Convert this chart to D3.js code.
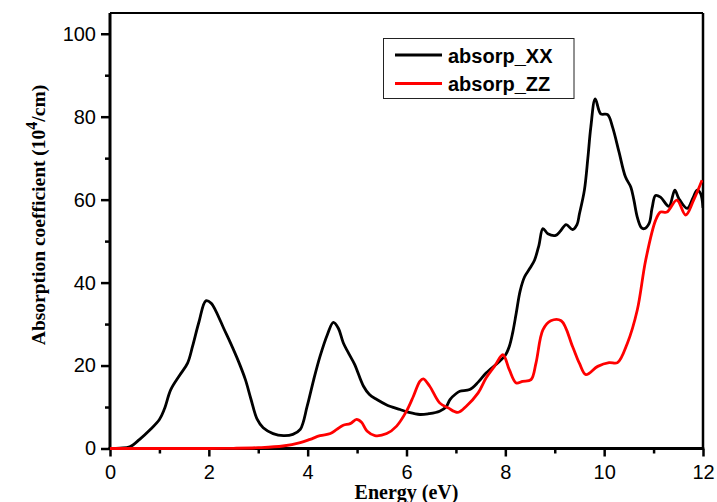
<!DOCTYPE html>
<html>
<head>
<meta charset="utf-8">
<script src="https://cdn.jsdelivr.net/npm/d3@7"></script>
<style>
  html, body { margin: 0; padding: 0; background: #fff; }
  svg { display: block; }
</style>
</head>
<body>
<svg id="chart" width="717" height="502"></svg>
<script>
// ---- data ----
const seriesNames = ["absorp_XX", "absorp_ZZ"];
const seriesColors = ["#000000", "#ff0000"];
const xMajorTicks = [0, 2, 4, 6, 8, 10, 12];
const xMinorTicks = [1, 3, 5, 7, 9, 11];
const yMajorTicks = [0, 20, 40, 60, 80, 100];
const yMinorTicks = [10, 30, 50, 70, 90];

const xxData = [[0,0],[0.2,0.1],[0.4,0.4],[0.6,2.2],[0.8,4.4],[1.0,7.0],[1.1,9.5],[1.23,14.2],[1.4,17.5],[1.57,20.6],[1.67,24.6],[1.8,30.5],[1.94,35.6],[2.05,35],[2.14,33.2],[2.3,29],[2.44,25.4],[2.6,21],[2.74,16.6],[2.85,12],[2.98,7],[3.1,5],[3.3,3.6],[3.51,3.1],[3.7,3.4],[3.85,4.6],[3.99,10.2],[4.12,16.5],[4.25,22.2],[4.4,27.5],[4.52,30.4],[4.62,29],[4.72,25.5],[4.85,22.5],[4.95,20.3],[5.13,15],[5.25,13],[5.4,11.8],[5.6,10.5],[5.87,9.4],[6.05,8.7],[6.27,8.2],[6.45,8.4],[6.67,9],[6.8,10],[6.88,11.8],[7.0,13.2],[7.08,13.8],[7.28,14.2],[7.45,16],[7.61,18.2],[7.88,21],[8.0,22.5],[8.08,24.6],[8.15,28],[8.22,32.6],[8.3,38],[8.39,41.4],[8.5,43.5],[8.59,45.4],[8.68,49],[8.76,53],[8.86,51.8],[9.02,51.4],[9.12,52.5],[9.23,54],[9.36,52.8],[9.45,54],[9.5,56.6],[9.6,62.3],[9.67,70],[9.73,77.5],[9.82,84.3],[9.93,80.7],[10.07,80.5],[10.17,77.5],[10.3,71.5],[10.43,65.5],[10.54,63],[10.6,60],[10.67,55.8],[10.75,53.3],[10.81,53],[10.91,54.3],[10.97,58],[11.04,61],[11.14,60.6],[11.31,58.4],[11.43,62.3],[11.51,60.3],[11.68,57.9],[11.8,60.5],[11.88,62.3],[11.95,61.5],[12,58]];

const zzData = [[0,0],[1,0],[2,0],[2.5,0.05],[3,0.2],[3.5,0.6],[3.85,1.4],[4.05,2.2],[4.25,3.1],[4.46,3.6],[4.59,4.6],[4.72,5.6],[4.86,6],[4.99,7],[5.09,6.3],[5.2,4.2],[5.36,3.1],[5.6,3.6],[5.8,5.4],[6.0,9],[6.14,12.6],[6.27,16.2],[6.34,16.8],[6.47,15],[6.67,11],[6.84,9.8],[7.04,8.7],[7.21,10.2],[7.45,13.4],[7.61,17],[7.78,19.8],[7.95,22.6],[8.08,19],[8.22,15.8],[8.35,16.2],[8.52,16.6],[8.62,20.6],[8.76,28.6],[8.92,30.8],[9.13,30.8],[9.36,24.6],[9.5,20.5],[9.63,17.8],[9.87,19.8],[10.1,20.7],[10.27,20.7],[10.47,25.4],[10.67,33.4],[10.84,45.4],[11.04,55],[11.14,57],[11.27,57],[11.47,59.9],[11.65,56.3],[11.81,59.9],[11.98,64.7]];

// ---- layout ----
const margin = {left: 110, right: 14, top: 13, bottom: 53.5};
const W = 717, H = 502;
const svg = d3.select("#chart");
const x = d3.scaleLinear().domain([0, 12]).range([margin.left, W - margin.right]);
const y = d3.scaleLinear().domain([0, 105]).range([H - margin.bottom, margin.top]);

const sansFont = "'Liberation Sans', Arial, sans-serif";
const serifFont = "'Liberation Serif', 'Times New Roman', serif";

// clip (slightly larger than plot so lines on the axis stay visible)
svg.append("clipPath").attr("id", "clip").append("rect")
  .attr("x", x(0)).attr("y", y(105)).attr("width", x(12) - x(0)).attr("height", y(0) - y(105) + 3);

// frame (top & right)
svg.append("line").attr("x1", x(0)).attr("x2", x(12)).attr("y1", y(105)).attr("y2", y(105))
  .attr("stroke", "#000").attr("stroke-width", 2.2);
svg.append("line").attr("x1", x(12)).attr("x2", x(12)).attr("y1", y(105)).attr("y2", y(0))
  .attr("stroke", "#000").attr("stroke-width", 2.5);

// axes
const xAxis = svg.append("g").attr("transform", `translate(0,${y(0)})`)
  .call(d3.axisBottom(x).tickValues(xMajorTicks).tickSize(8).tickPadding(8).tickFormat(d3.format("d")));
const xMinor = svg.append("g").attr("transform", `translate(0,${y(0)})`)
  .call(d3.axisBottom(x).tickValues(xMinorTicks).tickSize(5).tickFormat(""));
const yAxis = svg.append("g").attr("transform", `translate(${x(0)},0)`)
  .call(d3.axisLeft(y).tickValues(yMajorTicks).tickSize(9).tickPadding(5).tickFormat(d3.format("d")));
const yMinor = svg.append("g").attr("transform", `translate(${x(0)},0)`)
  .call(d3.axisLeft(y).tickValues(yMinorTicks).tickSize(5).tickFormat(""));

[xAxis, xMinor, yAxis, yMinor].forEach(g => {
  g.select(".domain").remove();
  g.selectAll(".tick line").attr("stroke", "#000").attr("stroke-width", 2.5);
  g.selectAll(".tick text").attr("fill", "#000").style("font-family", sansFont).style("font-size", "20px");
});
// axis lines
svg.append("line").attr("x1", x(0)).attr("x2", x(0)).attr("y1", y(105)).attr("y2", y(0) + 1.5)
  .attr("stroke", "#000").attr("stroke-width", 3);
svg.append("line").attr("x1", x(0) - 1.5).attr("x2", x(12) + 1.2).attr("y1", y(0)).attr("y2", y(0))
  .attr("stroke", "#000").attr("stroke-width", 3);

// lines (drawn over the axes)
const line = d3.line().x(d => x(d[0])).y(d => y(d[1])).curve(d3.curveCatmullRom.alpha(0.5));
[xxData, zzData].forEach((data, i) => {
  svg.append("path").datum(data)
    .attr("d", line)
    .attr("fill", "none")
    .attr("stroke", seriesColors[i])
    .attr("stroke-width", 2.8)
    .attr("stroke-linejoin", "round")
    .attr("clip-path", "url(#clip)");
});

// axis titles
svg.append("text")
  .attr("x", (x(0) + x(12)) / 2).attr("y", 499)
  .attr("text-anchor", "middle")
  .style("font-family", serifFont).style("font-weight", "bold").style("font-size", "20px")
  .text("Energy (eV)");

const yt = svg.append("text")
  .attr("transform", "translate(45,215) rotate(-90)")
  .attr("text-anchor", "middle")
  .style("font-family", serifFont).style("font-weight", "bold").style("font-size", "19.5px");
yt.append("tspan").text("Absorption coefficient (10");
yt.append("tspan").attr("dy", -8).style("font-size", "16px").text("4");
yt.append("tspan").attr("dy", 8).text("/cm)");

// legend
const lg = svg.append("g");
lg.append("rect").attr("x", 383.5).attr("y", 38.5).attr("width", 190.5).attr("height", 60)
  .attr("fill", "#fff").attr("stroke", "#222").attr("stroke-width", 1);
seriesNames.forEach((name, i) => {
  const cy = 55 + i * 28.5;
  lg.append("line").attr("x1", 395).attr("x2", 442).attr("y1", cy).attr("y2", cy)
    .attr("stroke", seriesColors[i]).attr("stroke-width", 2.8);
  lg.append("text").attr("x", 448).attr("y", cy + 7.5)
    .style("font-family", sansFont).style("font-weight", "bold").style("font-size", "20px")
    .attr("fill", "#000").text(name);
});
</script>
</body>
</html>
